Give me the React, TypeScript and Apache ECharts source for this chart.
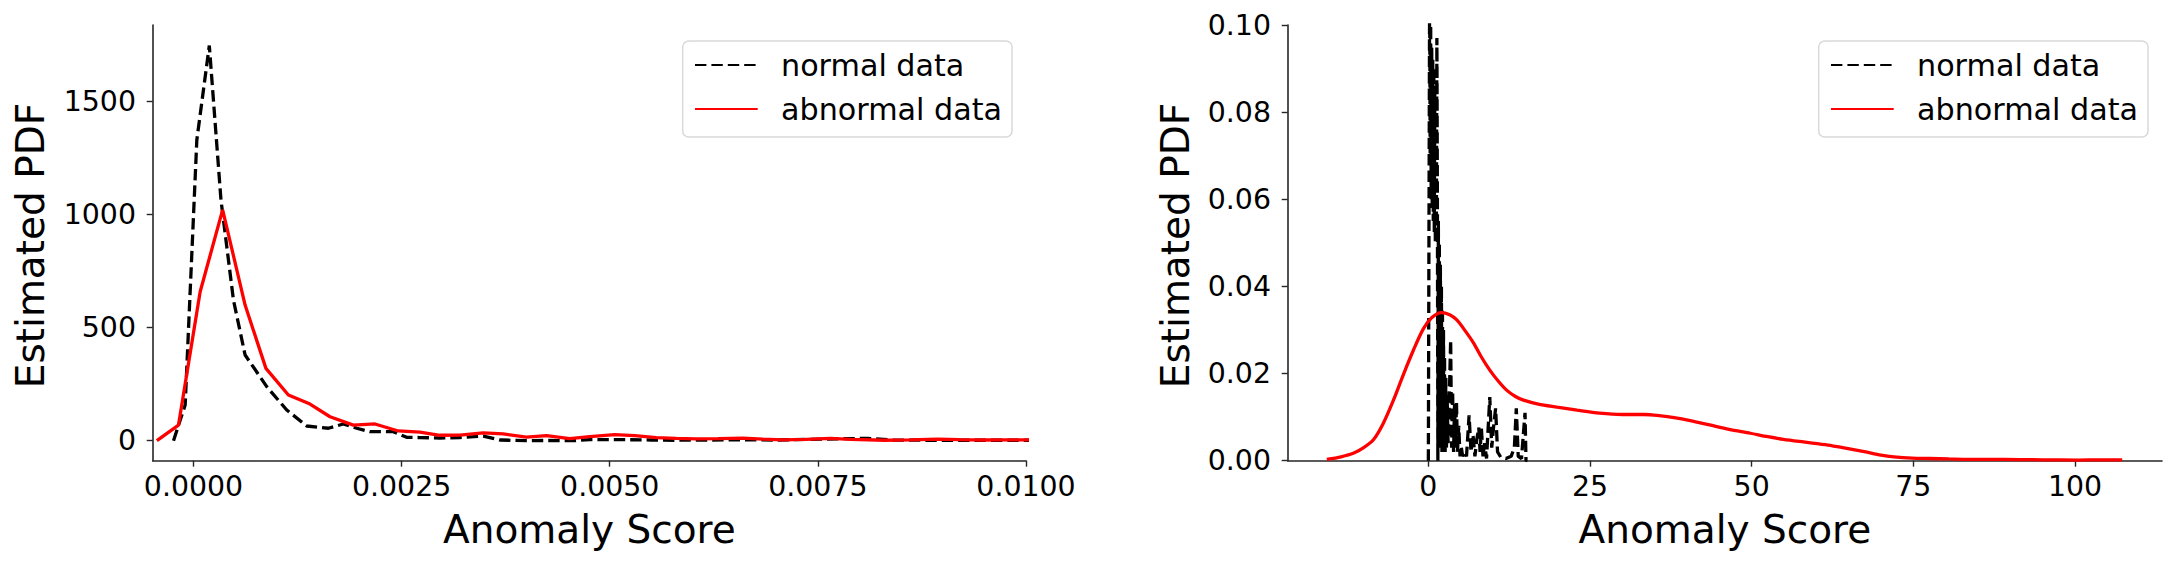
import React, { useEffect, useRef } from "react";
import * as echarts from "echarts";

const FONT = '"DejaVu Sans", "Liberation Sans", sans-serif';

// Left panel (zoomed into 0 .. 0.01)
const leftNormalX = [
  -0.00024, -0.0001, 0.00004, 0.00019, 0.00033, 0.00048, 0.00062, 0.00088, 0.00112, 0.00136,
  0.00162, 0.0018, 0.00196, 0.00212, 0.0024, 0.00256, 0.00272, 0.00296, 0.0032, 0.00348,
  0.00368, 0.004, 0.00424, 0.00456, 0.00476, 0.00508, 0.0055, 0.0058, 0.0062, 0.0066,
  0.007, 0.0074, 0.0078, 0.0081, 0.0084, 0.0088, 0.0092, 0.0096, 0.0101,
];
const leftNormalY = [
  0, 158, 1330, 1748, 1065, 622, 379, 239, 136, 65,
  55, 74, 55, 40, 40, 15, 14, 12, 14, 20,
  3, 0, 1, 0, 5, 5, 3, 2, 3, 4,
  3, 6, 9, 10, 3, 2, 2, 2, 2,
];
const leftAbnormalX = [
  -0.00044, -0.00018, 0.00008, 0.00035, 0.00062, 0.00087, 0.00114, 0.0014, 0.00164, 0.00192,
  0.00218, 0.00246, 0.00272, 0.00296, 0.0032, 0.00348, 0.00372, 0.004, 0.00424, 0.00452,
  0.00476, 0.00506, 0.0053, 0.00556, 0.0058, 0.00604, 0.0063, 0.0066, 0.00684, 0.00708,
  0.00736, 0.00765, 0.0079, 0.0083, 0.0086, 0.00894, 0.0092, 0.0095, 0.0097, 0.01022,
];
const leftAbnormalY = [
  0, 69, 659, 1021, 600, 320, 202, 162, 106, 69,
  74, 43, 38, 24, 25, 35, 30, 16, 22, 9,
  18, 27, 22, 14, 10, 8, 9, 11, 7, 4,
  6, 10, 6, 2, 4, 7, 5, 3, 4, 3,
];

// Right panel (full range)
const rightNormalX = [
  0.0, 0.1, 0.2, 0.28, 0.36, 0.44, 0.52, 0.6, 0.68, 0.76,
  0.84, 0.92, 1.0, 1.08, 1.16, 1.24, 1.32, 1.4, 1.47, 1.55,
  1.62, 1.7, 1.78, 1.86, 1.94, 2.02, 2.1, 2.18, 2.26, 2.34,
  2.42, 2.5, 2.6, 2.7, 2.8, 2.9, 3.05, 3.2, 3.45, 3.6,
  3.75, 3.9, 4.05, 4.2, 4.35, 4.5, 4.7, 4.9, 5.1, 5.3,
  5.6, 5.9, 6.3, 6.6, 6.9, 7.2, 7.5, 7.8, 8.0, 8.2,
  8.45, 8.7, 9.0, 9.5, 9.8, 10.1, 10.4, 10.7, 11.2, 12.0,
  12.8, 13.3, 13.6, 13.9, 14.4, 14.95, 15.1, 15.3,
];
const rightNormalY = [
  0, 0, 0.11, 0.07, 0.1, 0.06, 0.095, 0.058, 0.092, 0.055,
  0.09, 0.052, 0.085, 0.05, 0.08, 0.052, 0.097, 0.06, 0.0, 0.055,
  0.005, 0.05, 0.004, 0.045, 0.003, 0.04, 0.002, 0.035, 0.002, 0.03,
  0.003, 0.024, 0.002, 0.019, 0.003, 0.015, 0.004, 0.012, 0.0277, 0.003,
  0.016, 0.002, 0.013, 0.003, 0.0135, 0.002, 0.008, 0.001, 0.003, 0.001,
  0.002, 0.001, 0.0104, 0.002, 0.006, 0.001, 0.005, 0.0076, 0.002, 0.0075,
  0.001, 0.004, 0.0005, 0.0146, 0.003, 0.008, 0.012, 0.002, 0.0008, 0.0005,
  0.001, 0.003, 0.012, 0.001, 0.0005, 0.011, 0.0, 0.0,
];
const rightAbnormalX = [
  -15.7, -13.5, -11.6, -10, -8.5, -7, -5.4, -3.8, -2.3, -0.8,
  0.5, 2.0, 3.3, 4.4, 5.7, 7.0, 8.2, 9.5, 10.8, 12.1,
  13.4, 14.7, 17, 19.9, 23, 26.5, 30, 33.3, 36, 38,
  40.5, 43.5, 46.5, 49.8, 52.5, 54.9, 58, 61.8, 64.5, 67.4,
  70, 72, 74.8, 77.5, 80.5, 85, 89, 95, 100.4, 104,
  107.3,
];
const rightAbnormalY = [
  0.0003, 0.0009, 0.0017, 0.003, 0.0048, 0.0085, 0.0139, 0.02, 0.0254, 0.0302,
  0.0328, 0.034, 0.0335, 0.0323, 0.0298, 0.027, 0.0238, 0.0208, 0.0183, 0.0162,
  0.0148, 0.0139, 0.013, 0.0123, 0.0116, 0.0109, 0.0106, 0.0106, 0.0103, 0.0099,
  0.0092, 0.0082, 0.0072, 0.0063, 0.0055, 0.0049, 0.0043, 0.0036, 0.0029, 0.0021,
  0.0013, 0.0009, 0.0006, 0.0005, 0.0004, 0.0003, 0.0003, 0.0002, 0.00015, 0.0002,
  0.0002,
];

const leftXTicks = [0, 0.0025, 0.005, 0.0075, 0.01];
const leftYTicks = [0, 500, 1000, 1500];
const rightXTicks = [0, 25, 50, 75, 100];
const seriesNames = ["normal data", "abnormal data"];

const zip = (xs: number[], ys: number[]) => xs.map((x, i) => [x, ys[i]]);

const AXIS_COLOR = "#262626";
const TICK_FONT = 28.4;
const LEGEND_FONT = 30.2;
const TITLE_FONT = 39;

function baseAxis(gridIndex: number, min: number, max: number, ticks: number[] | null, fmt: (v: number) => string, margin: number, interval?: number) {
  const ax: any = {
    type: "value",
    gridIndex,
    min,
    max,
    splitLine: { show: false },
    axisLine: { show: true, onZero: false, lineStyle: { color: AXIS_COLOR, width: 1.6 } },
    axisTick: { show: true, length: 6, lineStyle: { color: AXIS_COLOR, width: 1.4 } },
    axisLabel: {
      show: true,
      margin,
      fontSize: TICK_FONT,
      fontFamily: FONT,
      color: "#000",
      formatter: fmt,
      showMinLabel: true,
      showMaxLabel: true,
      hideOverlap: false,
    },
  };
  if (ticks) {
    ax.axisTick.customValues = ticks;
    ax.axisLabel.customValues = ticks;
  }
  if (interval) ax.interval = interval;
  return ax;
}

function makeLegend(left: number) {
  return {
    data: seriesNames,
    orient: "vertical",
    left,
    top: 41,
    padding: [9, 10, 13, 11.3],
    itemWidth: 62.7,
    itemHeight: 20,
    itemGap: 14,
    borderColor: "#d9d9d9",
    borderWidth: 1.5,
    borderRadius: 6,
    backgroundColor: "rgba(255,255,255,0.8)",
    selectedMode: false,
    itemStyle: { opacity: 0 },
    textStyle: {
      fontSize: LEGEND_FONT,
      lineHeight: 30,
      fontFamily: FONT,
      color: "#000",
      padding: [0, 0, 0, 18.3],
    },
  };
}

const DASH = [11.4, 5];
const LW = 3.3;

export default function App() {
  const ref = useRef<HTMLDivElement>(null);
  useEffect(() => {
    if (!ref.current) return;
    const chart = echarts.init(ref.current, undefined, { renderer: "svg" });
    const titleStyle = (text: string) => ({
      text,
      font: `${TITLE_FONT}px ${FONT}`,
      fill: "#000",
      align: "center",
      verticalAlign: "middle",
    });
    const lineSeries = (name: string, xi: number, data: number[][], color: string, type: any, extra: any = {}) => ({
      name,
      type: "line",
      xAxisIndex: xi,
      yAxisIndex: xi,
      data,
      showSymbol: false,
      symbol: "none",
      clip: true,
      lineStyle: { color, width: LW, type },
      itemStyle: { color },
      ...extra,
    });
    const option: any = {
      animation: false,
      backgroundColor: "#fff",
      textStyle: { fontFamily: FONT },
      grid: [
        { left: 152.7, top: 25, width: 873.3, height: 435.7 },
        { left: 1287.7, top: 25, width: 874.3, height: 435.7 },
      ],
      xAxis: [
        baseAxis(0, -0.00049, 0.01, leftXTicks, (v: number) => v.toFixed(4), 12),
        baseAxis(1, -21.75, 113.45, rightXTicks, (v: number) => String(Math.round(v)), 12),
      ],
      yAxis: [
        baseAxis(0, -88.5, 1839, leftYTicks, (v: number) => String(Math.round(v)), 16.7),
        baseAxis(1, 0, 0.1, null, (v: number) => v.toFixed(2), 16.7, 0.02),
      ],
      legend: [makeLegend(682.7), makeLegend(1818.7)],
      series: [
        lineSeries(seriesNames[0], 0, zip(leftNormalX, leftNormalY), "#000000", DASH, { z: 3 }),
        lineSeries(seriesNames[1], 0, zip(leftAbnormalX, leftAbnormalY), "#ff0000", "solid", { z: 4 }),
        lineSeries(seriesNames[0], 1, zip(rightNormalX, rightNormalY), "#000000", DASH, { z: 3 }),
        lineSeries(seriesNames[1], 1, zip(rightAbnormalX, rightAbnormalY), "#ff0000", "solid", { z: 4, smooth: 0.3 }),
      ],
      graphic: [
        { type: "text", x: 589.4, y: 529.8, style: titleStyle("Anomaly Score") },
        { type: "text", x: 1724.9, y: 529.8, style: titleStyle("Anomaly Score") },
        { type: "text", x: 30.5, y: 245.5, rotation: Math.PI / 2, style: titleStyle("Estimated PDF") },
        { type: "text", x: 1175.5, y: 245.5, rotation: Math.PI / 2, style: titleStyle("Estimated PDF") },
      ],
    };
    chart.setOption(option);
    return () => chart.dispose();
  }, []);
  return (
    <div
      ref={ref}
      style={{ position: "fixed", left: 0, top: 0, width: 2176, height: 566, background: "#fff" }}
    />
  );
}
